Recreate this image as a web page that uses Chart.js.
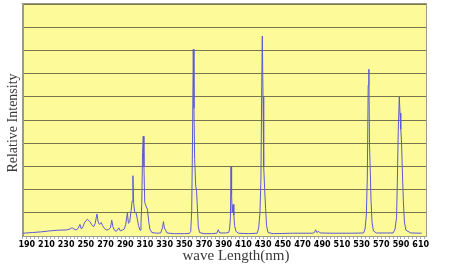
<!DOCTYPE html>
<html><head><meta charset="utf-8">
<script src="https://cdn.jsdelivr.net/npm/chart.js@4/dist/chart.umd.min.js"></script>
<style>html,body{margin:0;padding:0;background:#fff}#wrap{width:450px;height:266px}</style>
</head><body><div id="wrap"><canvas id="c" width="450" height="266"></canvas></div>
<script>
// Tick labels as printed on the reference axis (equally spaced)
const tickLabels = ["190","210","230","250","270","290","310","330","350","370","390","410","430","450","470","490","510","530","570","590","610"];
// Position along the axis (in axis units of the printed scale)
const wavelength = [186.3,196,205,213,222,230,234,236,238,240,242,244,245.5,247,249,251.5,254,256,258,259.5,261.3,262.5,264,265.5,267,269,271,273,275,276.3,277.5,279,281,283.5,285,287,289,290.5,292.2,293.2,294.5,296,297,297.8,298.6,299.5,301,302.2,303.5,305,306,306.8,307.6,308.3,309,309.8,311,312.5,313.8,315,317,322,326,327.8,328.8,329.8,331,332.5,340,350,355,356.5,357.5,358.3,359.1,359.8,360.5,361.5,362.5,363.3,364.2,365.5,370,378,383,384.5,386,392,395,396,396.8,397.4,398,398.6,399.5,400.3,401,402.5,405,415,424,425.5,426.8,427.8,428.6,429.2,429.9,430.6,431.6,432.5,433.5,435,440,460,480,482,483.4,484.5,486.5,488,500,520,532,533.5,534.8,535.8,536.7,537.4,538,538.8,539.6,540.6,542,545,555,562,564,565.5,566.3,567.2,568.3,569.0,569.8,570.6,571.4,572.4,573.5,575,580,591];
const intensity = [0.12,0.15,0.18,0.22,0.25,0.26,0.3,0.36,0.3,0.26,0.32,0.5,0.3,0.4,0.6,0.72,0.62,0.48,0.4,0.55,0.95,0.6,0.5,0.58,0.45,0.32,0.26,0.28,0.35,0.68,0.4,0.25,0.2,0.35,0.22,0.25,0.3,0.5,1.0,0.55,0.6,1.1,1.5,2.6,1.4,1.05,1.0,0.75,0.45,0.25,0.55,1.4,3.6,4.3,3.0,1.45,1.3,1.15,0.65,0.3,0.15,0.12,0.13,0.35,0.62,0.35,0.25,0.13,0.1,0.1,0.11,0.2,1.1,4.0,8.05,5.5,3.3,2.2,1.9,1.2,0.4,0.15,0.1,0.1,0.12,0.27,0.13,0.13,0.15,0.3,0.8,3.0,1.8,1.0,1.36,0.9,0.45,0.2,0.12,0.1,0.12,0.35,1.0,2.5,6.5,8.62,6.0,3.0,2.0,1.2,0.45,0.15,0.1,0.12,0.12,0.15,0.27,0.15,0.2,0.13,0.12,0.12,0.13,0.3,0.9,2.5,6.5,7.19,4.0,2.8,1.5,0.6,0.22,0.13,0.13,0.13,0.3,0.8,2.3,4.5,6.0,5.3,4.6,4.0,2.8,1.5,0.6,0.25,0.13,0.12];
const xTitle = "wave Length(nm)";
const yTitle = "Relative Intensity";

const points = wavelength.map((w, i) => ({x: w, y: intensity[i]}));

const bgPlugin = {
  id: 'bg',
  beforeDraw(chart) {
    const {ctx, chartArea: a} = chart;
    ctx.save();
    ctx.fillStyle = '#fdfb99';
    ctx.fillRect(a.left, a.top, a.right - a.left, a.bottom - a.top);
    ctx.restore();
  },
  afterDraw(chart) {
    const {ctx, chartArea: a} = chart;
    ctx.save();
    ctx.strokeStyle = '#9a9a88';
    ctx.lineWidth = 1;
    ctx.strokeRect(a.left - 0.5, a.top - 0.5, a.right - a.left + 1, a.bottom - a.top + 1);
    ctx.fillStyle = '#3a3a3a';
    ctx.textAlign = 'center';
    ctx.textBaseline = 'middle';
    ctx.font = '15px "Liberation Serif"';
    ctx.fillText(xTitle, 236, 256);
    ctx.translate(13, 123);
    ctx.rotate(-Math.PI / 2);
    ctx.font = '14px "Liberation Serif"';
    ctx.fillText(yTitle, 0, 0);
    ctx.restore();
  }
};

new Chart(document.getElementById('c'), {
  type: 'line',
  data: {
    datasets: [{
      data: points,
      borderColor: '#5a5ad8',
      borderWidth: 1,
      pointRadius: 0,
      tension: 0,
      fill: false
    }]
  },
  options: {
    responsive: false,
    animation: false,
    devicePixelRatio: 1,
    layout: {padding: {left: 0, right: 24, top: 4, bottom: 0}},
    plugins: {legend: {display: false}, tooltip: {enabled: false}},
    scales: {
      x: {
        type: 'linear',
        min: 186.2,
        max: 595.4,
        afterFit(s) { s.height = 30; },
        afterBuildTicks(s) {
          const t = [];
          for (let v = 186; v <= 594; v += 4) t.push({value: v});
          s.ticks = t;
        },
        grid: {drawOnChartArea: false, drawTicks: true, tickLength: 3, color: '#aaaaaa'},
        border: {color: '#9a9a88'},
        ticks: {
          autoSkip: false,
          maxRotation: 0,
          padding: 1,
          color: '#000',
          font: {family: 'DejaVu Sans', size: 8, weight: 'bold'},
          callback(v) {
            const k = (v - 190) / 20;
            return Number.isInteger(k) && tickLabels[k] !== undefined ? tickLabels[k] : '';
          }
        }
      },
      y: {
        min: 0,
        max: 10,
        afterFit(s) { s.width = 23; },
        ticks: {display: false, stepSize: 1},
        grid: {color: '#76764a', lineWidth: 1, drawTicks: false},
        border: {color: '#9a9a88'}
      }
    }
  },
  plugins: [bgPlugin]
});
</script>
</body></html>
